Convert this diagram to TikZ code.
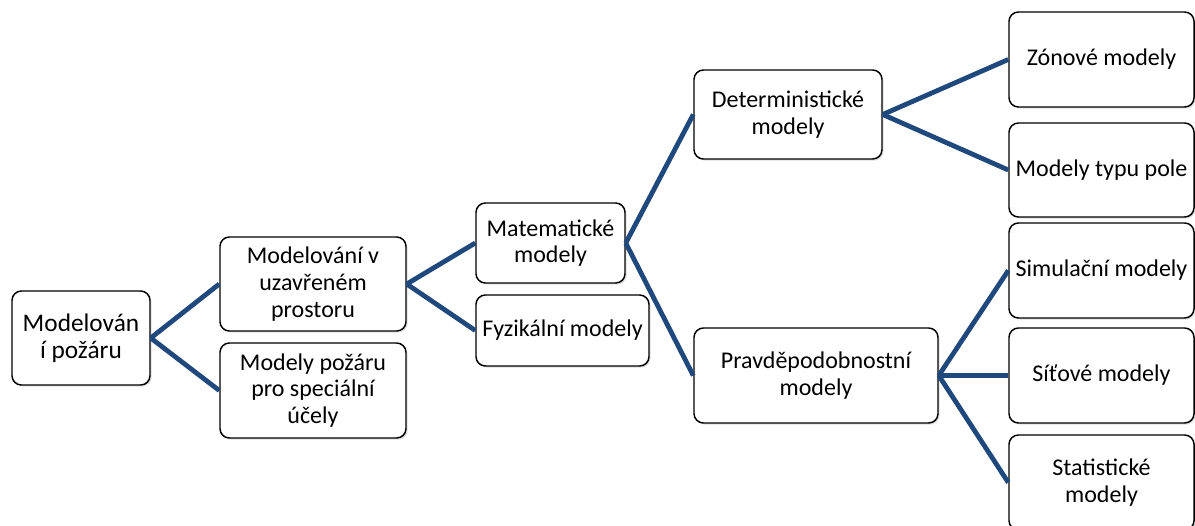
\documentclass[tikz,border=0pt]{standalone}
\usepackage{fontspec}
\setmainfont{Carlito}
\usetikzlibrary{shadows}
\definecolor{linkblue}{RGB}{31,73,125}
\begin{document}
\begin{tikzpicture}[x=0.75pt,y=-0.75pt,
  box/.style={draw=black, line width=1.1pt, rounded corners=7pt, fill=white,
    align=center, inner sep=2pt, font=\fontsize{18}{20}\selectfont,
    drop shadow={shadow xshift=1.2pt, shadow yshift=-1.2pt, opacity=0.25, fill=gray}},
  link/.style={draw=linkblue, line width=3.6pt}]
\useasboundingbox (0,0) rectangle (1195,525);
\node[box, minimum width=103.5pt, minimum height=70.5pt, font=\fontsize{19}{20.5}\selectfont] (A) at (81,338) {Modelován\\í požáru};
\node[box, minimum width=139.5pt, minimum height=70.5pt] (B) at (313,284) {Modelování v\\uzavřeném\\prostoru};
\node[box, minimum width=139.5pt, minimum height=71.25pt] (C) at (313,390.5) {Modely požáru\\pro speciální\\účely};
\node[box, minimum width=111.75pt, minimum height=60pt] (D) at (550.5,243) {Matematické\\modely};
\node[box, minimum width=129.75pt, minimum height=53.25pt] (E) at (562.5,330.5) {Fyzikální modely};
\node[box, minimum width=141pt, minimum height=66.75pt] (F) at (788,114.5) {Deterministické\\modely};
\node[box, minimum width=183pt, minimum height=71.25pt] (G) at (816,375.5) {Pravděpodobnostní\\modely};
\node[box, minimum width=138.75pt, minimum height=71.25pt] (H) at (1101.5,59.5) {Zónové modely};
\node[box, minimum width=138.75pt, minimum height=70.5pt] (I) at (1101.5,170) {Modely typu pole};
\node[box, minimum width=138.75pt, minimum height=71.25pt] (J) at (1101.5,270.5) {Simulační modely};
\node[box, minimum width=138.75pt, minimum height=71.25pt] (K) at (1101.5,375.5) {Síťové modely};
\node[box, minimum width=138.75pt, minimum height=71.25pt] (L) at (1101.5,482.5) {Statistické\\modely};
\draw[link] (A.east) -- (B.west);
\draw[link] (A.east) -- (C.west);
\draw[link] (B.east) -- (D.west);
\draw[link] (B.east) -- (E.west);
\draw[link] (D.east) -- (F.west);
\draw[link] (D.east) -- (G.west);
\draw[link] (F.east) -- (H.west);
\draw[link] (F.east) -- (I.west);
\draw[link] (G.east) -- (J.west);
\draw[link] (G.east) -- (K.west);
\draw[link] (G.east) -- (L.west);
\end{tikzpicture}
\end{document}
